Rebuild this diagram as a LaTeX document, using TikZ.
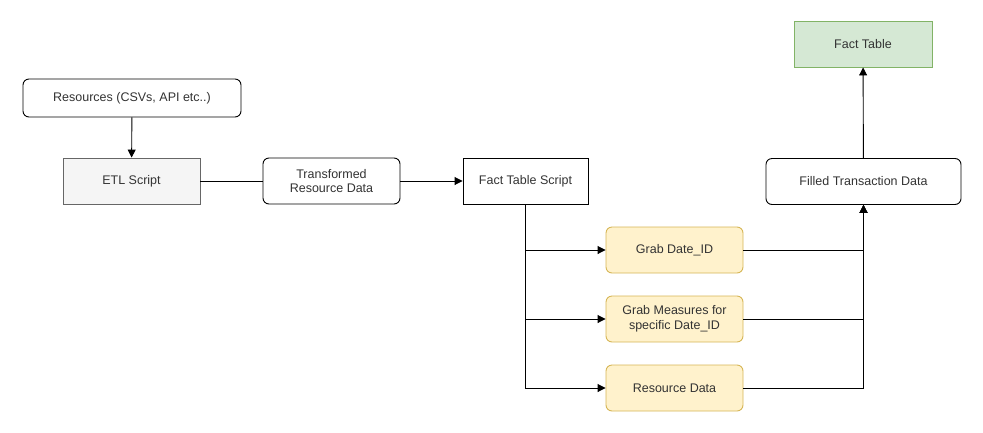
\documentclass[tikz,border=0pt]{standalone}
\usepackage{fontspec}
\setmainfont{Liberation Sans}
\usetikzlibrary{arrows.meta}
\definecolor{txt}{HTML}{333333}
\definecolor{grayfill}{HTML}{F5F5F5}
\definecolor{graystroke}{HTML}{666666}
\definecolor{greenfill}{HTML}{D5E8D4}
\definecolor{greenstroke}{HTML}{82B366}
\definecolor{yelfill}{HTML}{FFF2CC}
\definecolor{yelstroke}{HTML}{D6B656}
\begin{document}
\begin{tikzpicture}[x=1pt,y=-1pt,
  every node/.style={font=\fontsize{12.5}{14.5}\selectfont, text=txt, align=center, inner sep=0pt},
  base/.style={draw=black, line width=0.9pt},
  roundbox/.style={base, rounded corners=6pt, fill=white},
  sharpbox/.style={base, fill=white},
  etlbox/.style={draw=graystroke, line width=0.9pt, fill=grayfill},
  factbox/.style={draw=greenstroke, line width=0.9pt, fill=greenfill},
  yelbox/.style={draw=yelstroke, line width=0.9pt, fill=yelfill, rounded corners=6pt},
  conn/.style={draw=black, line width=0.9pt},
  arr/.style={conn, -{Triangle[length=8pt,width=8pt]}}
]
\useasboundingbox (0,0) rectangle (983,432);
\node[roundbox, minimum width=218pt, minimum height=38pt] (res) at (132,98) {Resources (CSVs, API etc..)};
\node[etlbox, minimum width=137pt, minimum height=46pt] (etl) at (131.5,181) {ETL Script};
\node[roundbox, minimum width=137pt, minimum height=46pt] (trans) at (331.5,181) {Transformed\\Resource Data};
\node[sharpbox, minimum width=125pt, minimum height=46pt] (fts) at (525.5,181) {Fact Table Script};
\node[roundbox, minimum width=195pt, minimum height=46pt] (filled) at (863.5,181.5) {Filled Transaction Data};
\node[factbox, minimum width=138pt, minimum height=46pt] (fact) at (863,44) {Fact Table};
\node[yelbox, minimum width=137pt, minimum height=46pt] (g1) at (674.5,250) {Grab Date\_ID};
\node[yelbox, minimum width=137pt, minimum height=46pt] (g2) at (674.5,319) {Grab Measures for\\specific Date\_ID};
\node[yelbox, minimum width=137pt, minimum height=46pt] (g3) at (674.5,388) {Resource Data};

\draw[arr] (res) -- (etl);
\draw[conn] (etl) -- (trans);
\draw[arr] (trans) -- (fts);
\draw[arr] (fts.south) |- (g1.west);
\draw[arr] (fts.south) |- (g2.west);
\draw[arr] (fts.south) |- (g3.west);
\draw[arr] (g1.east) -| (filled.south);
\draw[arr] (g2.east) -| (filled.south);
\draw[arr] (g3.east) -| (filled.south);
\draw[arr] (filled) -- (fact);
\end{tikzpicture}
\end{document}
